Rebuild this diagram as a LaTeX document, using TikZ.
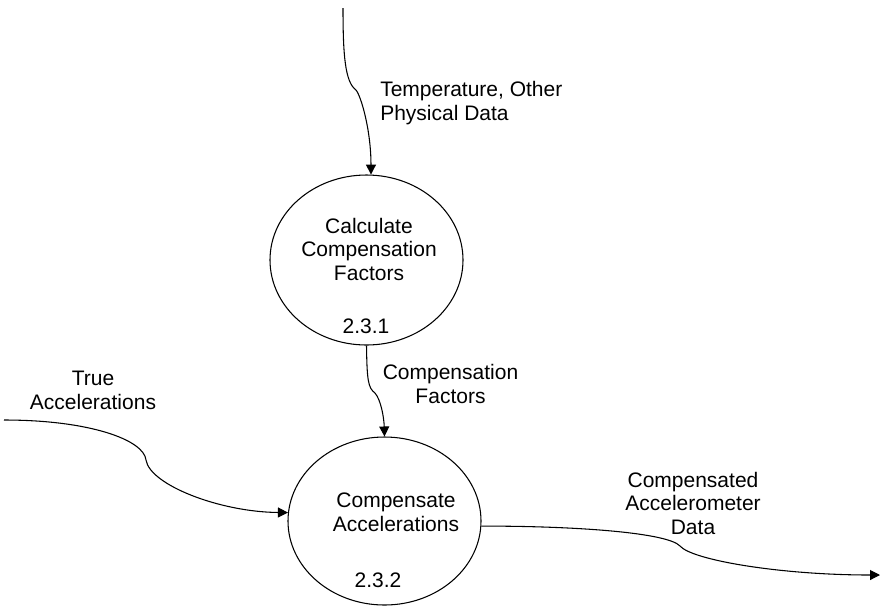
\documentclass[tikz,border=0pt]{standalone}
\usepackage{fontspec}
\setmainfont{Liberation Sans}
\usetikzlibrary{arrows.meta,shapes.geometric}
\tikzset{
  proc/.style={draw=black, line width=0.8pt, ellipse, inner sep=0pt},
  lbl/.style={font=\fontsize{15.75}{17.6}\selectfont, align=center, inner sep=0pt, anchor=base},
  lbll/.style={font=\fontsize{15.75}{17.6}\selectfont, align=left, inner sep=0pt, anchor=base west},
  flow/.style={line width=0.8pt, -{Triangle[length=7.5pt,width=7.5pt]}}
}
\begin{document}
\begin{tikzpicture}[x=0.75pt,y=-0.75pt]
\useasboundingbox (0,0) rectangle (881,612);
% processes
\node[proc, minimum width=144.75pt, minimum height=127.5pt] (p1) at (366.5,260) {};
\node[proc, minimum width=144.75pt, minimum height=126pt] (p2) at (384.5,521) {};
\node[lbl] (t1) at (369,280) {Calculate\\Compensation\\Factors};
\node[lbl] (n1) at (366,333) {2.3.1};
\node[lbl] (t2) at (396,531) {Compensate\\Accelerations};
\node[lbl] (n2) at (378,587) {2.3.2};
% free ends
\coordinate (src1) at (343,8);
\coordinate (src2) at (4,420);
\coordinate (snk) at (880,575);
% flows
\draw[flow] (src1) .. controls (343,55) and (345,82) .. (356,90)
  .. controls (361,96) and (371,130) .. (p1.87);
\draw[flow] (p1.south) .. controls (367,380) and (368,388) .. (375,393)
  .. controls (381,400) and (384,418) .. (p2.north);
\draw[flow] (src2) .. controls (90,420) and (144,440) .. (146,460)
  .. controls (150,485) and (220,512) .. (p2.175);
\draw[flow] (p2.-3) .. controls (580,526) and (668,533) .. (680,546)
  .. controls (692,560) and (780,575) .. (snk);
% flow labels
\node[lbll] (l1) at (380,120) {Temperature, Other\\Physical Data};
\node[lbl] (l2) at (450.5,403) {Compensation\\Factors};
\node[lbl] (l3) at (93,409) {True\\Accelerations};
\node[lbl] (l4) at (693,534) {Compensated\\Accelerometer\\Data};
\end{tikzpicture}
\end{document}
